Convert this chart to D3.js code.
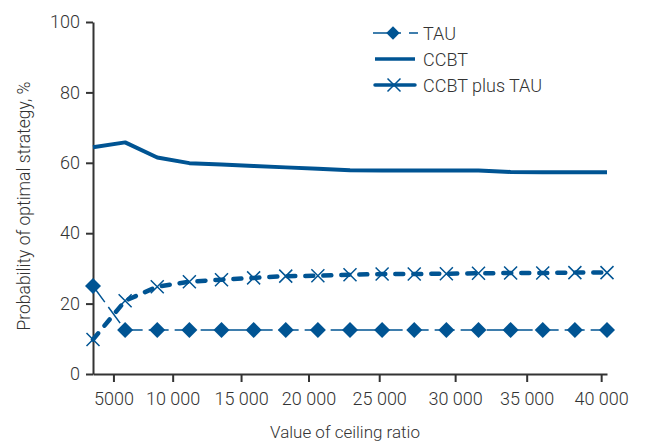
<!DOCTYPE html>
<html>
<head>
<meta charset="utf-8">
<script src="https://cdn.jsdelivr.net/npm/d3@7"></script>
<style>
  html, body { margin: 0; padding: 0; background: #fff; }
  svg { display: block; }
  text { font-family: Roboto, "Open Sans", sans-serif; font-weight: 300; fill: #333; }
</style>
</head>
<body>
<svg id="chart" width="649" height="443"></svg>
<script>
// Ceiling ratio at each evaluated point
const ceilings = [3250, 6000, 8800, 11300, 13600, 15900, 18300, 20700, 23000,
                  25200, 27300, 29400, 31600, 33900, 36100, 38200, 40400];

// Probability (%) that each strategy is optimal
const tau = [25, 12.5, 12.5, 12.5, 12.5, 12.5, 12.5, 12.5, 12.5,
             12.5, 12.5, 12.5, 12.5, 12.5, 12.5, 12.5, 12.5];
const ccbt = [64.4, 65.8, 61.5, 59.9, 59.5, 59.1, 58.7, 58.3, 57.9,
              57.8, 57.8, 57.8, 57.8, 57.4, 57.3, 57.3, 57.3];
const ccbtPlusTau = [9.8, 20.8, 24.8, 26.2, 26.8, 27.3, 27.8, 27.9, 28.2,
                     28.4, 28.4, 28.5, 28.6, 28.7, 28.7, 28.8, 28.8];

const xTicks = [5000, 10000, 15000, 20000, 25000, 30000, 35000, 40000];
const yTicks = [0, 20, 40, 60, 80, 100];
const seriesNames = ["TAU", "CCBT", "CCBT plus TAU"];

const blue = "#005493";
const axisColor = "#333";

const svg = d3.select("#chart");
const margin = { top: 22, right: 42, bottom: 69, left: 93 };
const W = +svg.attr("width"), H = +svg.attr("height");
const x0 = margin.left, x1 = W - margin.right;
const y0 = H - margin.bottom, y1 = margin.top;

// Points are evenly spaced along the axis; ceiling values map piecewise onto them
const slot = d3.scaleLinear().domain([0, ceilings.length - 1]).range([x0, x1]);
const x = d3.scaleLinear()
  .domain(ceilings)
  .range(ceilings.map((_, i) => slot(i)));
const y = d3.scaleLinear().domain([0, 100]).range([y0, y1]);

// Axes
const fmt = v => v >= 10000 ? d3.format(",")(v).replace(",", " ") : String(v);

const gx = svg.append("g")
  .attr("transform", `translate(0,${y0})`)
  .call(d3.axisBottom(x).tickValues(xTicks).tickFormat(fmt).tickSizeInner(8).tickSizeOuter(0).tickPadding(10));
gx.select(".domain").attr("stroke", axisColor).attr("stroke-width", 2);
gx.selectAll(".tick line").attr("stroke", axisColor).attr("stroke-width", 2);
gx.selectAll(".tick text").style("font-size", "18px").attr("fill", "#333");

const gy = svg.append("g")
  .attr("transform", `translate(${x0},0)`)
  .call(d3.axisLeft(y).tickValues(yTicks).tickSizeInner(7).tickSizeOuter(0).tickPadding(6));
gy.select(".domain").attr("stroke", axisColor).attr("stroke-width", 2);
gy.selectAll(".tick line").attr("stroke", axisColor).attr("stroke-width", 2);
gy.selectAll(".tick text").style("font-size", "18px").attr("fill", "#333");

// Axis titles
svg.append("text")
  .attr("x", (x0 + x1) / 2 - 5)
  .attr("y", H - 5)
  .attr("text-anchor", "middle")
  .style("font-size", "17px")
  .text("Value of ceiling ratio");

svg.append("text")
  .attr("transform", `translate(30,${(y0 + y1) / 2 + 8}) rotate(-90)`)
  .attr("text-anchor", "middle")
  .style("font-size", "17.5px")
  .text("Probability of optimal strategy, %");

// Series lines
const line = d3.line().x((d, i) => x(ceilings[i])).y(d => y(d));

svg.append("path")
  .datum(ccbt)
  .attr("d", line)
  .attr("fill", "none")
  .attr("stroke", blue)
  .attr("stroke-width", 4)
  .attr("stroke-linejoin", "round");

svg.append("path")
  .datum(tau)
  .attr("d", line)
  .attr("fill", "none")
  .attr("stroke", blue)
  .attr("stroke-width", 1.5)
  .attr("stroke-dasharray", "20,6");

svg.append("path")
  .datum(ccbtPlusTau)
  .attr("d", line)
  .attr("fill", "none")
  .attr("stroke", blue)
  .attr("stroke-width", 4.5)
  .attr("stroke-linecap", "round")
  .attr("stroke-dasharray", "8,10");

// Markers
const diamond = d3.symbol().type(d3.symbolSquare).size(128);
const cross = d3.symbol().type(d3.symbolX).size(112);

svg.append("g").selectAll("path")
  .data(tau)
  .join("path")
  .attr("d", diamond)
  .attr("transform", (d, i) => `translate(${x(ceilings[i])},${y(d)}) rotate(45)`)
  .attr("fill", blue);

svg.append("g").selectAll("path")
  .data(ccbtPlusTau)
  .join("path")
  .attr("d", cross)
  .attr("transform", (d, i) => `translate(${x(ceilings[i])},${y(d)})`)
  .attr("fill", "none")
  .attr("stroke", blue)
  .attr("stroke-width", 1.5);

// Legend
const legend = svg.append("g").attr("transform", "translate(373,33)");
const rowGap = 26;

legend.append("line")
  .attr("x1", 0).attr("x2", 45).attr("y1", 0).attr("y2", 0)
  .attr("stroke", blue).attr("stroke-width", 1.5).attr("stroke-dasharray", "28,8");
legend.append("path")
  .attr("d", d3.symbol().type(d3.symbolSquare).size(90))
  .attr("transform", "translate(20,0) rotate(45)")
  .attr("fill", blue);

legend.append("line")
  .attr("x1", 2).attr("x2", 42).attr("y1", rowGap).attr("y2", rowGap)
  .attr("stroke", blue).attr("stroke-width", 3.5);

legend.append("line")
  .attr("x1", 2).attr("x2", 42).attr("y1", rowGap * 2).attr("y2", rowGap * 2)
  .attr("stroke", blue).attr("stroke-width", 3.5).attr("stroke-linecap", "round");
legend.append("path")
  .attr("d", cross)
  .attr("transform", `translate(21,${rowGap * 2})`)
  .attr("fill", "none").attr("stroke", blue).attr("stroke-width", 1.5);

legend.selectAll("text.lbl")
  .data(seriesNames)
  .join("text")
  .attr("class", "lbl")
  .attr("x", 50)
  .attr("y", (d, i) => i * rowGap + 6.5)
  .style("font-size", "18px")
  .text(d => d);
</script>
</body>
</html>
